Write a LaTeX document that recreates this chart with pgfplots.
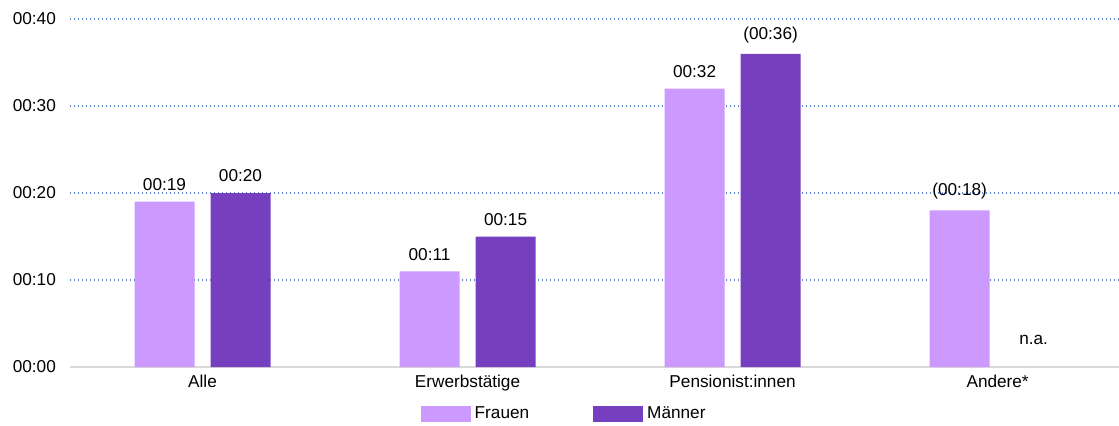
\documentclass[border=0pt]{standalone}
\usepackage{fontspec}
\setmainfont{Liberation Sans}
\usepackage{pgfplots}
\pgfplotsset{compat=1.18}
\definecolor{frauen}{HTML}{CC99FF}
\definecolor{maenner}{HTML}{763FC0}
\definecolor{gridblue}{HTML}{4472C4}
\begin{document}
\fontsize{8.6}{10}\selectfont
\begin{tikzpicture}
\begin{axis}[
 scale only axis, width=524.5pt, height=174pt,
 xmin=-0.5, xmax=3.458, ymin=0, ymax=40,
 ybar, bar width=30pt,
 xtick={0,1,2,3}, xticklabels={Alle,Erwerbstätige,Pensionist:innen,Andere*},
 ytick={0,10,20,30,40}, yticklabels={00:00,00:10,00:20,00:30,00:40},
 ymajorgrids, grid style={gridblue!85, line width=0.7pt, dash pattern=on 0.7pt off 1.3pt},
 axis x line*=bottom, axis y line*=left,
 y axis line style={draw=none}, x axis line style={color=black!15, line width=0.8pt},
 major tick length=0pt,
 tick label style={font=\fontsize{8.6}{10}\selectfont},
 yticklabel style={xshift=-4pt},
 xticklabel style={yshift=-1pt},
 nodes near coords, point meta=explicit symbolic,
 every node near coord/.append style={font=\fontsize{8.6}{10}\selectfont, yshift=2.5pt, text=black},
 legend columns=2,
 legend style={draw=none, fill=none, at={(0.472,-0.135)}, anchor=center,
   font=\fontsize{8.6}{10}\selectfont, /tikz/every even column/.append style={column sep=30pt}},
 legend image code/.code={\fill[#1] (0pt,-4pt) rectangle (25pt,4pt);},
 clip=false,
]
\addplot+[ybar, bar shift=-19pt, fill=frauen, draw=none] coordinates {(0,19)[00:19] (1,11)[00:11] (2,32)[00:32] (3,18)[(00:18)]};
\addplot+[ybar, bar shift=19pt, fill=maenner, draw=none] coordinates {(0,20)[00:20] (1,15)[00:15] (2,36)[(00:36)]};
\legend{Frauen,Männer}
\node at ([xshift=18pt]axis cs:3,3.1) {n.a.};
\coordinate (bl) at (rel axis cs:0,0);
\coordinate (tr) at (rel axis cs:1,1);
\end{axis}
\pgfresetboundingbox
\path ([xshift=-35pt,yshift=-29pt]bl) rectangle ([yshift=9.5pt]tr);
\end{tikzpicture}
\end{document}
